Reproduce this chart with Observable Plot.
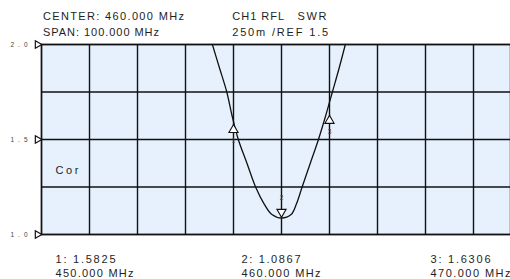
<!DOCTYPE html>
<html><head><meta charset="utf-8">
<script src="https://cdn.jsdelivr.net/npm/d3@7"></script>
<script src="https://cdn.jsdelivr.net/npm/@observablehq/plot@0.6"></script>
<style>html,body{margin:0;padding:0;overflow:hidden;background:#fff;width:510px;height:279px}</style>
</head><body><div id="chart"></div>
<script>
// trace data (frequency in MHz, SWR)
const freq = [445.6, 447.1, 448.6, 449.7, 451.0, 452.8, 454.6, 456.4, 458.0, 460.0, 462.0, 463.1, 464.3, 466.0, 467.7, 469.2, 470.6, 472.0, 473.3];
const swr  = [2.0,   1.875, 1.75,  1.625, 1.5,   1.375, 1.25,  1.16,  1.105, 1.0867, 1.105, 1.16, 1.25,  1.375, 1.5,   1.625, 1.75,  1.875, 2.0];

const markerIds = ["1", "2", "3"];
const markerFreq = [450, 460, 470];
const markerSwr = [1.5825, 1.0867, 1.6306];
const markerReadout = ["1: 1.5825", "2: 1.0867", "3: 1.6306"];
const markerFreqText = ["450.000 MHz", "460.000 MHz", "470.000 MHz"];

const xGrid = [410, 420, 430, 440, 450, 460, 470, 480, 490, 500, 510];
const yGrid = [1, 1.25, 1.5, 1.75, 2];
const yTicks = [2, 1.5, 1];
const yTickLabels = ["2.0", "1.5", "1.0"];

const headerLeft = ["CENTER: 460.000 MHz", "SPAN: 100.000 MHz"];
const headerRight = ["CH1 RFL", "250m /REF 1.5"];
const headerUnit = "SWR";
const traceLabel = "Cor";

const trace = freq.map((f, i) => ({f, s: swr[i]}));
const markers = markerIds.map((id, i) => ({id, f: markerFreq[i], s: markerSwr[i]}));
const ticks = yTicks.map((v, i) => ({v, label: yTickLabels[i]}));
const readoutDx = [14, 200, 389];

// rendered widths (px) of the text lines, as seen in the reference
const textWidths = new Map([
  [headerLeft[0], 141], [headerLeft[1], 116], [headerRight[0], 52], [headerRight[1], 96], [headerUnit, 29],
  [yTickLabels[0], 17], [yTickLabels[1], 17], [yTickLabels[2], 17], [traceLabel, 23],
  [markerReadout[0], 60], [markerReadout[1], 59], [markerReadout[2], 60],
  [markerFreqText[0], 78], [markerFreqText[1], 79], [markerFreqText[2], 80]
]);

const ink = "#111";
const txt = "#1e1e1e";
const label = (s, dx, dy, extra = {}) =>
  Plot.text([s], {frameAnchor: "top-left", text: d => d, dx, dy, lineAnchor: "bottom", textAnchor: "start", fill: txt, ...extra});

const chart = Plot.plot({
  width: 510,
  height: 279,
  marginTop: 44,
  marginBottom: 45,
  marginLeft: 41,
  marginRight: 0,
  x: {domain: [410, 510], range: [41, 521], axis: null},
  y: {domain: [1, 2], axis: null},
  style: {fontFamily: "Liberation Sans, Arial, sans-serif", fontSize: "11px", background: "#fff", overflow: "hidden"},
  marks: [
    Plot.frame({fill: "#e6f1fd", stroke: null}),
    Plot.ruleX(xGrid, {stroke: ink, strokeWidth: 1.4}),
    Plot.ruleY(yGrid, {stroke: ink, strokeWidth: 1.4}),
    Plot.line(trace, {x: "f", y: "s", stroke: ink, strokeWidth: 1.3, curve: "catmull-rom"}),
    // markers
    Plot.dot(markers.filter(d => d.id !== "2"), {x: "f", y: "s", symbol: "triangle", r: 3.4, dy: 6, fill: "#fff", stroke: ink, strokeWidth: 1.1}),
    Plot.dot(markers.filter(d => d.id === "2"), {x: "f", y: "s", symbol: "triangle", rotate: 180, r: 3.4, dy: -6, fill: "#fff", stroke: ink, strokeWidth: 1.1}),
    Plot.text(markers.filter(d => d.id !== "2"), {x: "f", y: "s", text: "id", dy: 17, fontSize: 6.5, fill: "#444"}),
    Plot.text(markers.filter(d => d.id === "2"), {x: "f", y: "s", text: "id", dy: -20, fontSize: 6.5, fill: "#444"}),
    // y tick markers
    Plot.dot(ticks, {x: () => 410, y: "v", symbol: "triangle", rotate: 90, r: 2.8, dx: -4, fill: "#fff", stroke: ink, strokeWidth: 1.2}),
    Plot.text(ticks, {frameAnchor: "left", y: "v", text: "label", dx: -31, textAnchor: "start", fontSize: 6.5, fill: "#444"}),
    // headers
    label(headerLeft[0], 1.5, -24.5),
    label(headerLeft[1], 1.5, -9),
    label(headerRight[0], 190.7, -24.5),
    label(headerRight[1], 190.7, -8.5),
    label(headerUnit, 256, -24.5),
    label(traceLabel, 14, 129),
    // marker readouts
    ...markerIds.map((id, i) => label(markerReadout[i], readoutDx[i], 218)),
    ...markerIds.map((id, i) => label(markerFreqText[i], readoutDx[i], 232)),
    Plot.frame({stroke: ink, strokeWidth: 1.4})
  ]
});

d3.select(chart).selectAll("text").each(function() {
  const w = textWidths.get(this.textContent);
  if (w) { this.setAttribute("textLength", w); this.setAttribute("lengthAdjust", "spacing"); }
});
document.getElementById("chart").appendChild(chart);
</script>
</body></html>
